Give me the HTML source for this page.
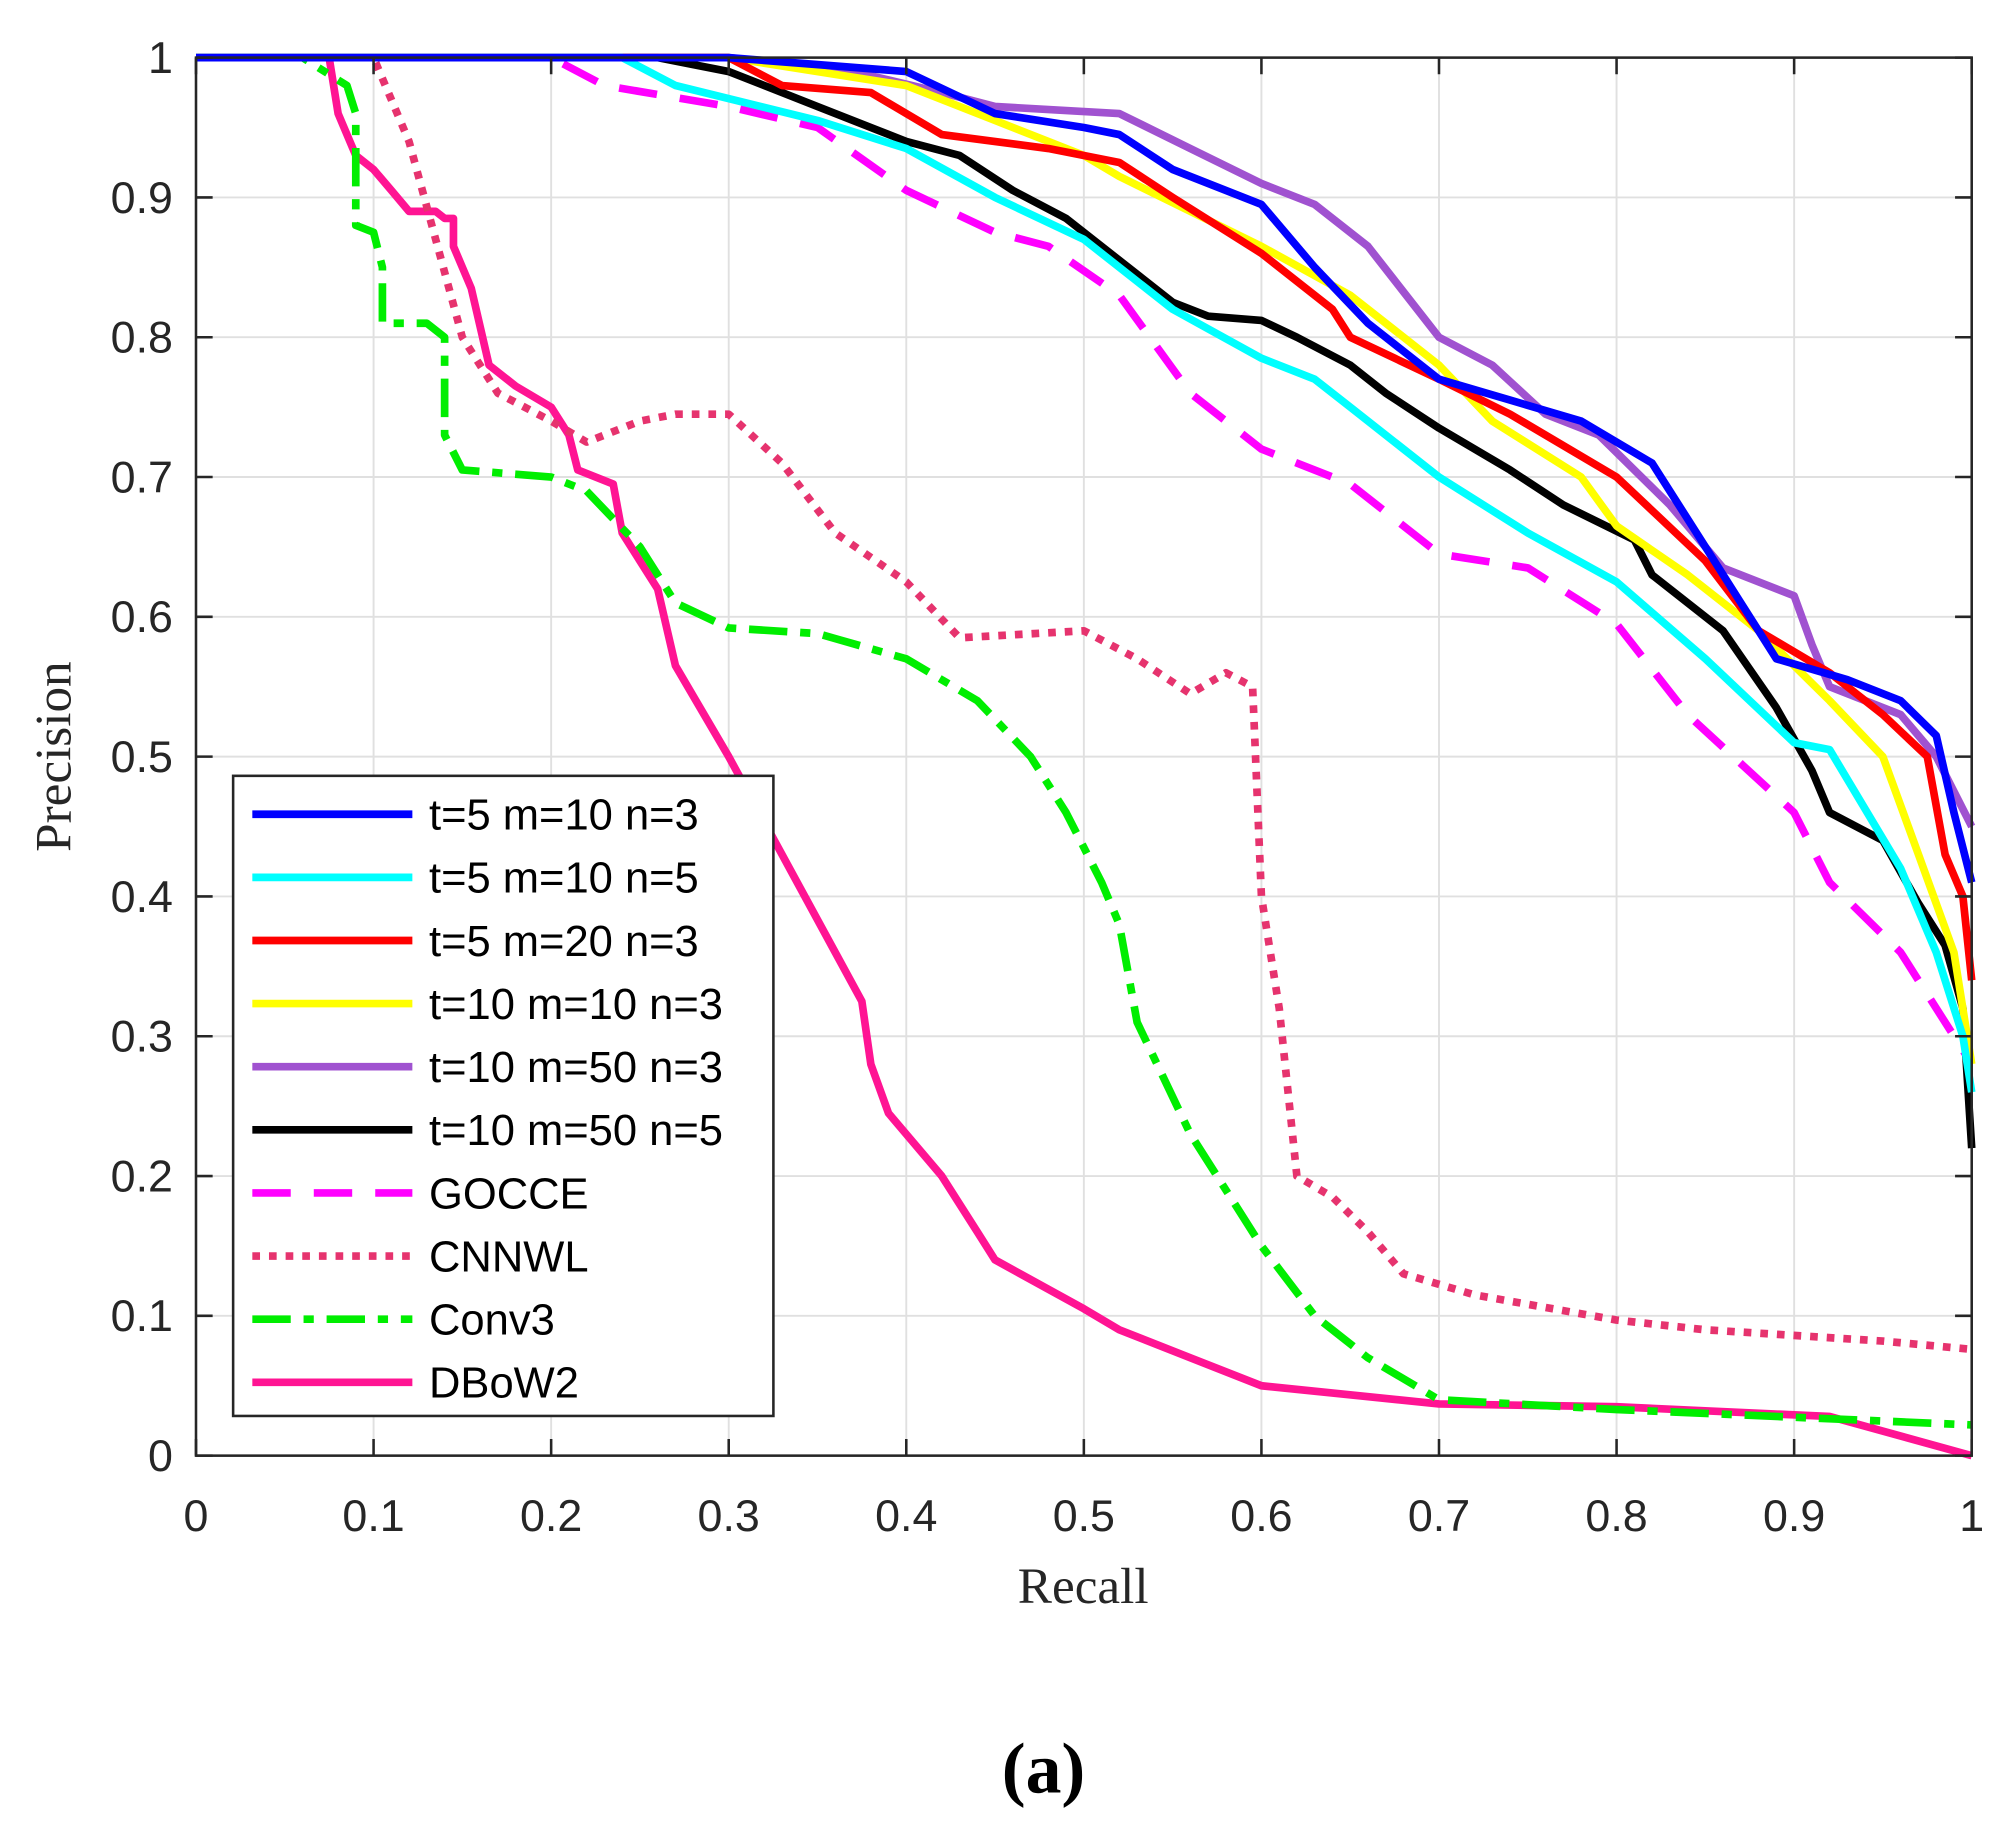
<!DOCTYPE html>
<html><head><meta charset="utf-8"><style>html,body{margin:0;padding:0;background:#fff}svg{display:block}</style></head>
<body>
<svg id="s" width="2000" height="1841" viewBox="0 0 1562 1438" xmlns="http://www.w3.org/2000/svg">
<rect x="0" y="0" width="1562" height="1438" fill="#fff"/>
<g id="grid"></g>
<g id="series"></g>
<rect x="153" y="45" width="1387" height="1092" fill="none" stroke="#262626" stroke-width="2"/>
<g id="ticks" font-family="Liberation Sans, Arial, sans-serif" font-size="35" fill="#262626"></g>
<text x="846" y="1252" text-anchor="middle" font-family="Liberation Serif, serif" font-size="40" fill="#262626">Recall</text>
<text transform="translate(55,591) rotate(-90)" text-anchor="middle" font-family="Liberation Serif, serif" font-size="40" fill="#262626">Precision</text>
<text x="815" y="1400" text-anchor="middle" font-family="Liberation Serif, serif" font-size="56" font-weight="bold" fill="#000">(a)</text>
<g id="legend" font-family="Liberation Sans, Arial, sans-serif" font-size="34" fill="#000"></g>
</svg>
<script>
const X=v=>153+v*1387, Y=v=>1137-v*1092, NS="http://www.w3.org/2000/svg";
function el(p,t,a,txt){const e=document.createElementNS(NS,t);for(const k in a)e.setAttribute(k,a[k]);if(txt!==undefined)e.textContent=txt;document.getElementById(p).appendChild(e);return e;}
for(let i=1;i<10;i++){el("grid","line",{x1:X(i/10),x2:X(i/10),y1:45,y2:1137,stroke:"#e0e0e0","stroke-width":1.5});el("grid","line",{y1:Y(i/10),y2:Y(i/10),x1:153,x2:1540,stroke:"#e0e0e0","stroke-width":1.5});}
for(let i=0;i<=10;i++){const l=i==0?"0":i==10?"1":"0."+i;
el("ticks","text",{x:X(i/10),y:1196,"text-anchor":"middle"},l);
el("ticks","text",{x:135,y:Y(i/10)+12,"text-anchor":"end"},l);
el("ticks","line",{x1:X(i/10),x2:X(i/10),y1:1137,y2:1124,stroke:"#262626","stroke-width":2});
el("ticks","line",{x1:X(i/10),x2:X(i/10),y1:45,y2:58,stroke:"#262626","stroke-width":2});
el("ticks","line",{y1:Y(i/10),y2:Y(i/10),x1:153,x2:166,stroke:"#262626","stroke-width":2});
el("ticks","line",{y1:Y(i/10),y2:Y(i/10),x1:1540,x2:1527,stroke:"#262626","stroke-width":2});}
const S=[
["t=5 m=10 n=3","#0000ff","",[[0,1],[0.3,1],[0.4,0.99],[0.45,0.96],[0.5,0.95],[0.52,0.945],[0.55,0.92],[0.6,0.895],[0.63,0.85],[0.66,0.81],[0.7,0.77],[0.74,0.755],[0.78,0.74],[0.82,0.71],[0.85,0.65],[0.87,0.61],[0.89,0.57],[0.93,0.555],[0.96,0.54],[0.98,0.515],[0.99,0.46],[1,0.41]]],
["t=5 m=10 n=5","#00ffff","",[[0,1],[0.24,1],[0.27,0.98],[0.35,0.955],[0.4,0.935],[0.45,0.9],[0.5,0.87],[0.55,0.82],[0.6,0.785],[0.63,0.77],[0.65,0.75],[0.7,0.7],[0.75,0.66],[0.8,0.625],[0.85,0.57],[0.9,0.51],[0.92,0.505],[0.96,0.42],[0.98,0.36],[0.995,0.3],[1,0.26]]],
["t=5 m=20 n=3","#ff0000","",[[0,1],[0.3,1],[0.33,0.98],[0.38,0.975],[0.42,0.945],[0.48,0.935],[0.52,0.925],[0.55,0.9],[0.6,0.86],[0.64,0.82],[0.65,0.8],[0.7,0.77],[0.74,0.745],[0.8,0.7],[0.85,0.64],[0.88,0.59],[0.92,0.56],[0.95,0.53],[0.975,0.5],[0.985,0.43],[0.995,0.4],[1,0.34]]],
["t=10 m=10 n=3","#ffff00","",[[0,1],[0.3,1],[0.4,0.98],[0.45,0.955],[0.5,0.93],[0.52,0.915],[0.6,0.865],[0.65,0.83],[0.7,0.78],[0.73,0.74],[0.78,0.7],[0.8,0.665],[0.84,0.63],[0.88,0.59],[0.92,0.54],[0.95,0.5],[0.97,0.43],[0.99,0.36],[1,0.28]]],
["t=10 m=50 n=3","#a052d0","",[[0,1],[0.3,1],[0.37,0.99],[0.42,0.975],[0.45,0.965],[0.52,0.96],[0.56,0.935],[0.6,0.91],[0.63,0.895],[0.66,0.865],[0.7,0.8],[0.73,0.78],[0.76,0.745],[0.79,0.73],[0.83,0.68],[0.86,0.635],[0.9,0.615],[0.91,0.58],[0.92,0.55],[0.96,0.53],[0.98,0.5],[1,0.45]]],
["t=10 m=50 n=5","#000000","",[[0,1],[0.26,1],[0.3,0.99],[0.35,0.965],[0.4,0.94],[0.43,0.93],[0.46,0.905],[0.49,0.885],[0.52,0.855],[0.55,0.825],[0.57,0.815],[0.6,0.812],[0.62,0.8],[0.65,0.78],[0.67,0.76],[0.7,0.735],[0.74,0.705],[0.77,0.68],[0.81,0.655],[0.82,0.63],[0.86,0.59],[0.89,0.535],[0.91,0.49],[0.92,0.46],[0.95,0.44],[0.97,0.395],[0.985,0.365],[0.995,0.32],[1,0.22]]],
["GOCCE","#ff00ff","30 18",[[0,1],[0.2,1],[0.23,0.98],[0.3,0.965],[0.35,0.95],[0.4,0.905],[0.45,0.875],[0.48,0.865],[0.52,0.83],[0.56,0.76],[0.6,0.72],[0.65,0.695],[0.7,0.645],[0.75,0.635],[0.8,0.595],[0.84,0.53],[0.9,0.46],[0.92,0.41],[0.96,0.36],[0.98,0.32],[1,0.28]]],
["CNNWL","#e6336e","6 7",[[0,1],[0.1,1],[0.12,0.94],[0.15,0.8],[0.17,0.76],[0.2,0.74],[0.22,0.725],[0.25,0.74],[0.27,0.745],[0.3,0.745],[0.33,0.71],[0.36,0.66],[0.4,0.625],[0.43,0.585],[0.5,0.59],[0.53,0.57],[0.56,0.545],[0.58,0.56],[0.595,0.55],[0.6,0.4],[0.61,0.32],[0.62,0.2],[0.64,0.185],[0.66,0.16],[0.68,0.13],[0.72,0.115],[0.8,0.097],[0.85,0.09],[0.95,0.082],[1,0.076]]],
["Conv3","#00ee00","30 10 8 10",[[0,1],[0.06,1],[0.085,0.98],[0.09,0.96],[0.09,0.88],[0.1,0.875],[0.105,0.85],[0.105,0.81],[0.13,0.81],[0.14,0.8],[0.14,0.73],[0.15,0.705],[0.2,0.7],[0.22,0.69],[0.25,0.65],[0.27,0.61],[0.3,0.592],[0.35,0.588],[0.4,0.57],[0.44,0.54],[0.47,0.5],[0.49,0.46],[0.51,0.41],[0.52,0.38],[0.53,0.31],[0.56,0.23],[0.6,0.15],[0.63,0.1],[0.66,0.07],[0.7,0.04],[0.8,0.033],[1,0.022]]],
["DBoW2","#ff1493","",[[0,1],[0.075,1],[0.08,0.96],[0.09,0.93],[0.1,0.92],[0.11,0.905],[0.12,0.89],[0.135,0.89],[0.14,0.885],[0.145,0.885],[0.145,0.865],[0.155,0.835],[0.165,0.78],[0.18,0.765],[0.2,0.75],[0.21,0.73],[0.215,0.705],[0.235,0.695],[0.24,0.66],[0.26,0.62],[0.27,0.565],[0.3,0.5],[0.33,0.43],[0.36,0.36],[0.375,0.325],[0.38,0.28],[0.39,0.245],[0.42,0.2],[0.44,0.16],[0.45,0.14],[0.5,0.105],[0.52,0.09],[0.56,0.07],[0.6,0.05],[0.7,0.037],[0.8,0.035],[0.92,0.028],[1,0]]]];
for(let i=S.length-1;i>=0;i--){const s=S[i];
const a={d:"M"+s[3].map(p=>X(p[0]).toFixed(1)+","+Y(p[1]).toFixed(1)).join("L"),fill:"none",stroke:s[1],"stroke-width":6,"stroke-linejoin":"round"};
if(s[2])a["stroke-dasharray"]=s[2];el("series","path",a);}
el("legend","rect",{x:182,y:606,width:422,height:500,fill:"#fff",stroke:"#262626","stroke-width":2});
S.forEach((s,i)=>{const y=636+i*49.3;const a={x1:197,x2:322,y1:y,y2:y,stroke:s[1],"stroke-width":6};if(s[2])a["stroke-dasharray"]=s[2];
el("legend","line",a);el("legend","text",{x:335,y:y+12},s[0]);});
</script>
</body></html>
